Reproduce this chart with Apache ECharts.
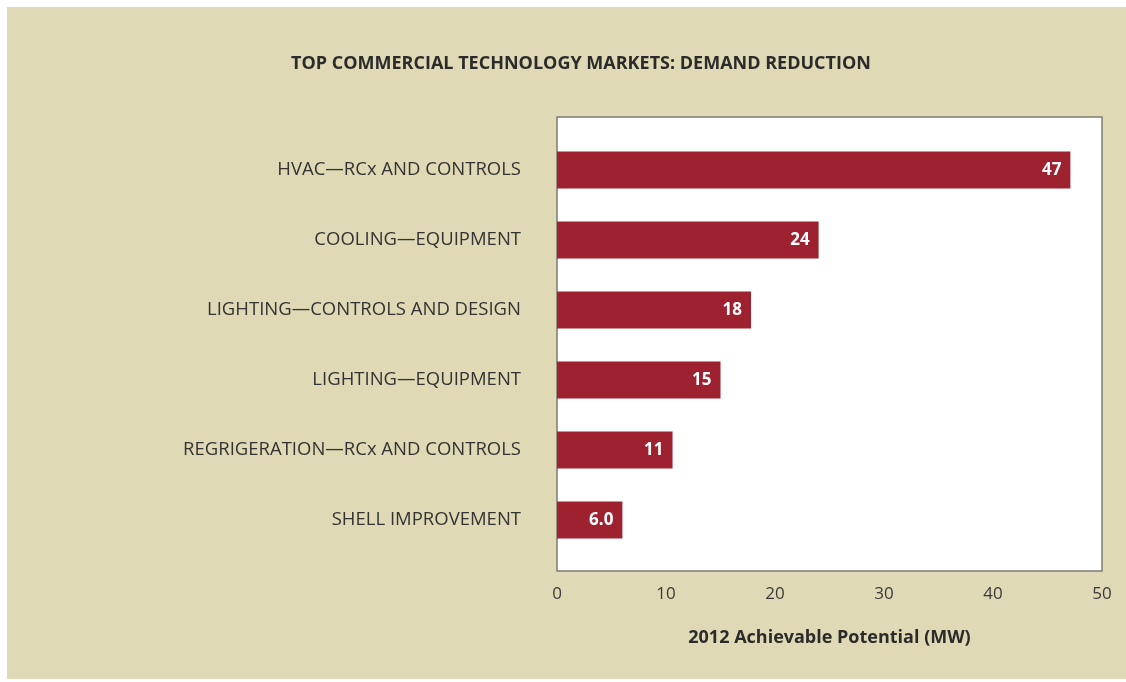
<!DOCTYPE html>
<html>
<head>
<meta charset="utf-8">
<script src="https://cdn.jsdelivr.net/npm/echarts@6/dist/echarts.min.js"></script>
<style>
  html, body { margin: 0; padding: 0; background: #fff; }
  #chart { position: absolute; left: 7px; top: 7px; width: 1119px; height: 672px; background: #dfdab5; }
</style>
</head>
<body>
<div id="chart"></div>
<script>
const categories = [
  'HVAC\u2014RCx AND CONTROLS',
  'COOLING\u2014EQUIPMENT',
  'LIGHTING\u2014CONTROLS AND DESIGN',
  'LIGHTING\u2014EQUIPMENT',
  'REGRIGERATION\u2014RCx AND CONTROLS',
  'SHELL IMPROVEMENT'
]
const values = [47.1, 24.0, 17.8, 15.0, 10.6, 6.0]

const font = '"Open Sans", "Noto Sans", sans-serif'
const chart = echarts.init(document.getElementById('chart'))

chart.setOption({
  animation: false,
  textStyle: { fontFamily: font },
  title: {
    text: 'TOP COMMERCIAL TECHNOLOGY MARKETS: DEMAND REDUCTION',
    left: 569,
    top: 43,
    textAlign: 'center',
    textStyle: { fontSize: 18, fontWeight: 'bold', color: '#2b2b2b', fontFamily: font }
  },
  grid: [
    // frame with the x axis
    { left: 550, top: 110, width: 545, height: 454, show: true, backgroundColor: '#fff', borderColor: '#7d7b72', borderWidth: 1.5 },
    // bars
    { left: 550, top: 128, width: 545, height: 420 }
  ],
  xAxis: [
    {
      gridIndex: 0,
      type: 'value',
      min: 0,
      max: 50,
      interval: 10,
      axisLine: { show: false },
      axisTick: { show: false },
      splitLine: { show: false },
      axisLabel: { color: '#3a3a3a', fontSize: 17, margin: 15, fontFamily: font },
      name: '2012 Achievable Potential (MW)',
      nameLocation: 'middle',
      nameGap: 58,
      nameTextStyle: { color: '#2b2b2b', fontSize: 18, fontWeight: 'bold', fontFamily: font }
    },
    { gridIndex: 1, type: 'value', min: 0, max: 50, show: false }
  ],
  yAxis: [
    { gridIndex: 0, type: 'value', show: false },
    {
      gridIndex: 1,
      type: 'category',
      data: categories,
      inverse: true,
      axisLine: { show: false },
      axisTick: { show: false },
      axisLabel: { color: '#333', fontSize: 18.5, margin: 36, fontFamily: font }
    }
  ],
  series: [{
    type: 'bar',
    xAxisIndex: 1,
    yAxisIndex: 1,
    data: values,
    barWidth: 37,
    itemStyle: { color: '#9e2130' },
    label: {
      show: true,
      position: 'insideRight',
      distance: 9,
      color: '#fff',
      fontSize: 17,
      fontWeight: 'bold',
      fontFamily: font,
      formatter: p => p.value >= 10 ? String(Math.round(p.value)) : p.value.toFixed(1)
    }
  }]
})
</script>
</body>
</html>
